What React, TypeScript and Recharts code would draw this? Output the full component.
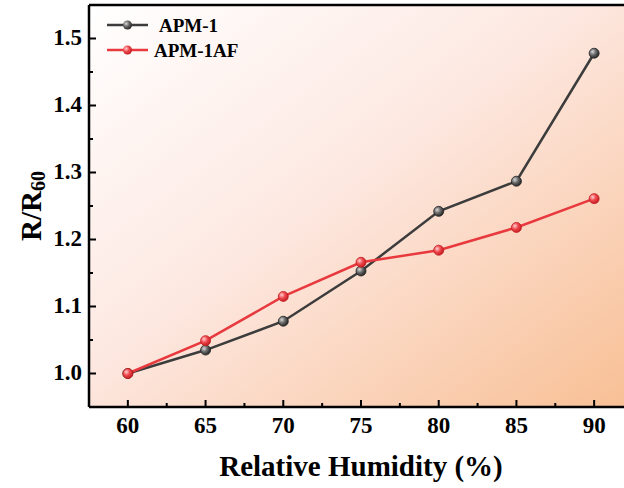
import React from 'react';
import {
  LineChart,
  Line,
  XAxis,
  YAxis,
  ReferenceArea,
  ReferenceLine
} from 'recharts';

const humidity = [60, 65, 70, 75, 80, 85, 90];
const apm1 = [1.0, 1.035, 1.078, 1.153, 1.242, 1.287, 1.478];
const apm1af = [1.0, 1.049, 1.115, 1.166, 1.184, 1.218, 1.261];

const xMajor = [60, 65, 70, 75, 80, 85, 90];
const xMinor = [62.5, 67.5, 72.5, 77.5, 82.5, 87.5];
const yMajor = [1.0, 1.1, 1.2, 1.3, 1.4, 1.5];
const yMinor = [1.05, 1.15, 1.25, 1.35, 1.45];

const seriesNames = ['APM-1', 'APM-1AF'];

const data = humidity.map((h, i) => ({ h, apm1: apm1[i], apm1af: apm1af[i] }));

const FONT = '"Liberation Serif", "Times New Roman", serif';
const GRAY = '#3c3c3c';
const RED = '#e8393e';

const isMajorX = (v: number) => xMajor.includes(v);
const isMajorY = (v: number) => yMajor.some((m) => Math.abs(m - v) < 1e-6);

const XTick = (props: any) => {
  const { x, y, payload } = props;
  const major = isMajorX(payload.value);
  return (
    <g>
      <line x1={x} x2={x} y1={y} y2={y - (major ? 7 : 4)} stroke="#000" strokeWidth={2} />
      {major && (
        <text x={x} y={y + 26} textAnchor="middle" fontFamily={FONT} fontWeight="bold" fontSize={23} fill="#000">
          {payload.value}
        </text>
      )}
    </g>
  );
};

const YTick = (props: any) => {
  const { x, y, payload } = props;
  const major = isMajorY(payload.value);
  return (
    <g>
      <line x1={x} x2={x + (major ? 7 : 4)} y1={y} y2={y} stroke="#000" strokeWidth={2} />
      {major && (
        <text x={x - 7} y={y + 6.5} textAnchor="end" fontFamily={FONT} fontWeight="bold" fontSize={23} fill="#000">
          {payload.value.toFixed(1)}
        </text>
      )}
    </g>
  );
};

const Ball = ({ cx, cy, grad, stroke }: any) => (
  <circle cx={cx} cy={cy} r={5} fill={`url(#${grad})`} stroke={stroke} strokeWidth={0.8} />
);

const BallDefs = ({ prefix }: { prefix: string }) => (
  <>
    <radialGradient id={`${prefix}Gray`} cx="35%" cy="35%" r="65%">
      <stop offset="0%" stopColor="#d8d8d8" />
      <stop offset="50%" stopColor="#6a6a6a" />
      <stop offset="100%" stopColor="#2a2a2a" />
    </radialGradient>
    <radialGradient id={`${prefix}Red`} cx="35%" cy="35%" r="65%">
      <stop offset="0%" stopColor="#ffd0d0" />
      <stop offset="50%" stopColor="#ee4a4f" />
      <stop offset="100%" stopColor="#c81e24" />
    </radialGradient>
  </>
);

// legend drawn as a small svg, line + ball marker + bold label
const LegendBox = () => (
  <svg width={160} height={60}>
    <defs>
      <BallDefs prefix="lg" />
    </defs>
    {seriesNames.map((name, i) => {
      const cy = 13 + i * 25;
      const color = i === 0 ? GRAY : RED;
      return (
        <g key={name}>
          <line x1={7} x2={48} y1={cy} y2={cy} stroke={color} strokeWidth={2.5} />
          <circle cx={27.5} cy={cy} r={4.5} fill={`url(#${i === 0 ? 'lgGray' : 'lgRed'})`} />
          <text x={i === 0 ? 59 : 54} y={cy + 7} fontFamily={FONT} fontWeight="bold" fontSize={19} fill="#000">
            {name}
          </text>
        </g>
      );
    })}
  </svg>
);

export default function App() {
  return (
    <div style={{ position: 'fixed', left: 0, top: 0, width: 624, height: 488, overflow: 'hidden', background: '#fff' }}>
      <LineChart width={640} height={488} data={data} margin={{ top: 5, right: 7, bottom: 0, left: 0 }}>
        <defs>
          <linearGradient id="bgGrad" x1="0" y1="0" x2="1" y2="1">
            <stop offset="0%" stopColor="#ffffff" />
            <stop offset="45%" stopColor="#fde8e1" />
            <stop offset="100%" stopColor="#f8bf94" />
          </linearGradient>
          <BallDefs prefix="ball" />
        </defs>
        <ReferenceArea x1={57.5} x2={92.5} y1={0.95} y2={1.55} fill="url(#bgGrad)" fillOpacity={1} stroke="none" />
        <XAxis
          dataKey="h"
          type="number"
          domain={[57.5, 92.5]}
          ticks={[...xMajor, ...xMinor].sort((a, b) => a - b)}
          interval={0}
          height={81}
          tickSize={0}
          tickMargin={0}
          tickLine={false}
          axisLine={{ stroke: '#000', strokeWidth: 2.5 }}
          tick={<XTick />}
          allowDataOverflow
        />
        <YAxis
          type="number"
          domain={[0.95, 1.55]}
          ticks={[...yMajor, ...yMinor].sort((a, b) => a - b)}
          interval={0}
          width={89}
          tickSize={0}
          tickMargin={0}
          tickLine={false}
          axisLine={{ stroke: '#000', strokeWidth: 2.5 }}
          tick={<YTick />}
          allowDataOverflow
        />
        <ReferenceLine y={1.55} stroke="#000" strokeWidth={2.5} />
        <Line
          type="linear"
          dataKey="apm1"
          name={seriesNames[0]}
          stroke={GRAY}
          strokeWidth={2.5}
          dot={(p: any) => <Ball key={`g${p.index}`} cx={p.cx} cy={p.cy} grad="ballGray" stroke="#222" />}
          isAnimationActive={false}
        />
        <Line
          type="linear"
          dataKey="apm1af"
          name={seriesNames[1]}
          stroke={RED}
          strokeWidth={2.5}
          dot={(p: any) => <Ball key={`r${p.index}`} cx={p.cx} cy={p.cy} grad="ballRed" stroke="#c41d22" />}
          isAnimationActive={false}
        />
      </LineChart>
      <div style={{ position: 'absolute', left: 100, top: 12 }}>
        <LegendBox />
      </div>
      <svg style={{ position: 'absolute', left: 0, top: 0 }} width={60} height={420}>
        <text
          x={31}
          y={206}
          transform="rotate(-90, 31, 206)"
          textAnchor="middle"
          dominantBaseline="central"
          fontFamily={FONT}
          fontWeight="bold"
          fontSize={29}
          fill="#000"
        >
          R/R<tspan fontSize={20} dy={7}>60</tspan>
        </text>
      </svg>
      <div
        style={{
          position: 'absolute',
          left: 89,
          width: 544,
          top: 448,
          textAlign: 'center',
          fontFamily: FONT,
          fontWeight: 'bold',
          fontSize: 29,
          lineHeight: '36px',
          color: '#000'
        }}
      >
        Relative Humidity (%)
      </div>
    </div>
  );
}
